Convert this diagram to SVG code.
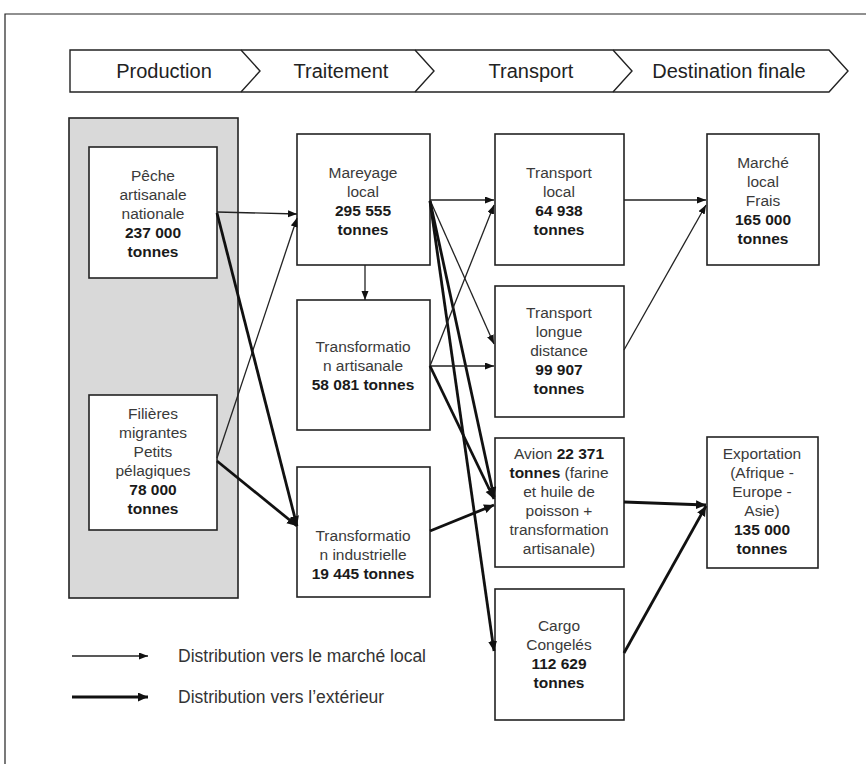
<svg xmlns="http://www.w3.org/2000/svg" width="866" height="764" viewBox="0 0 866 764">
<style>
.box{fill:#fff;stroke:#222;stroke-width:1.6}
.t{font-family:"Liberation Sans",Arial,sans-serif;font-size:15.5px;fill:#3a3a3a;text-anchor:middle}
.b{font-weight:bold;fill:#1a1a1a}
.hd{font-family:"Liberation Sans",Arial,sans-serif;font-size:20px;fill:#222;text-anchor:middle}
.lg{font-family:"Liberation Sans",Arial,sans-serif;font-size:17.5px;fill:#333}
.thin{stroke:#222;stroke-width:1.3;fill:none;marker-end:url(#ah)}
.thick{stroke:#111;stroke-width:2.8;fill:none;marker-end:url(#ahb)}
</style>
<defs>
<marker id="ah" markerUnits="userSpaceOnUse" markerWidth="10" markerHeight="8" refX="9" refY="3.5" orient="auto"><path d="M0,0 L9,3.5 L0,7 z" fill="#111"/></marker>
<marker id="ahb" markerUnits="userSpaceOnUse" markerWidth="12" markerHeight="10" refX="10" refY="4.5" orient="auto"><path d="M0,0 L10,4.5 L0,9 z" fill="#111"/></marker>
</defs>
<rect width="866" height="764" fill="#fff"/>
<path d="M5,764 L5,14 L866,14" fill="none" stroke="#222" stroke-width="1.2"/>
<g id="banner">
<path d="M70,50 L829,50 L848,71 L829,92 L70,92 Z" fill="#fff" stroke="#222" stroke-width="1.4"/>
<path d="M241,50 L260,71 L241,92 M415,50 L434,71 L415,92 M613,50 L632,71 L613,92" fill="none" stroke="#222" stroke-width="1.4"/>
<text class="hd" x="164" y="78">Production</text>
<text class="hd" x="341" y="78">Traitement</text>
<text class="hd" x="531" y="78">Transport</text>
<text class="hd" x="729" y="78">Destination finale</text>
</g>
<g id="production-zone"><rect x="69" y="118" width="169" height="480" fill="#d9d9d9" stroke="#222" stroke-width="1.6"/></g>
<g id="peche">
<rect class="box" x="89" y="147" width="128" height="131"/>
<text class="t" x="153" y="181">Pêche</text>
<text class="t" x="153" y="200">artisanale</text>
<text class="t" x="153" y="219">nationale</text>
<text class="t b" x="153" y="238">237 000</text>
<text class="t b" x="153" y="257">tonnes</text>
</g>
<g id="filieres">
<rect class="box" x="89" y="395" width="128" height="135"/>
<text class="t" x="153" y="419">Filières</text>
<text class="t" x="153" y="438">migrantes</text>
<text class="t" x="153" y="457">Petits</text>
<text class="t" x="153" y="476">pélagiques</text>
<text class="t b" x="153" y="495">78 000</text>
<text class="t b" x="153" y="514">tonnes</text>
</g>
<g id="mareyage">
<rect class="box" x="297" y="134" width="133" height="131"/>
<text class="t" x="363" y="178">Mareyage</text>
<text class="t" x="363" y="197">local</text>
<text class="t b" x="363" y="216">295 555</text>
<text class="t b" x="363" y="235">tonnes</text>
</g>
<g id="transf-artisanale">
<rect class="box" x="297" y="300" width="133" height="130"/>
<text class="t" x="363" y="352">Transformatio</text>
<text class="t" x="363" y="371">n artisanale</text>
<text class="t b" x="363" y="390">58 081 tonnes</text>
</g>
<g id="transf-industrielle">
<rect class="box" x="297" y="467" width="133" height="130"/>
<text class="t" x="363" y="541">Transformatio</text>
<text class="t" x="363" y="560">n industrielle</text>
<text class="t b" x="363" y="579">19 445 tonnes</text>
</g>
<g id="transport-local">
<rect class="box" x="495" y="134" width="129" height="131"/>
<text class="t" x="559" y="178">Transport</text>
<text class="t" x="559" y="197">local</text>
<text class="t b" x="559" y="216">64 938</text>
<text class="t b" x="559" y="235">tonnes</text>
</g>
<g id="transport-longue">
<rect class="box" x="495" y="286" width="129" height="131"/>
<text class="t" x="559" y="318">Transport</text>
<text class="t" x="559" y="337">longue</text>
<text class="t" x="559" y="356">distance</text>
<text class="t b" x="559" y="375">99 907</text>
<text class="t b" x="559" y="394">tonnes</text>
</g>
<g id="avion">
<rect class="box" x="495" y="438" width="129" height="129"/>
<text class="t" x="559" y="459">Avion <tspan class="b">22 371</tspan></text>
<text class="t" x="559" y="478"><tspan class="b">tonnes</tspan> (farine</text>
<text class="t" x="559" y="497">et huile de</text>
<text class="t" x="559" y="516">poisson +</text>
<text class="t" x="559" y="535">transformation</text>
<text class="t" x="559" y="554">artisanale)</text>
</g>
<g id="cargo">
<rect class="box" x="495" y="589" width="129" height="131"/>
<text class="t" x="559" y="631">Cargo</text>
<text class="t" x="559" y="650">Congelés</text>
<text class="t b" x="559" y="669">112 629</text>
<text class="t b" x="559" y="688">tonnes</text>
</g>
<g id="marche">
<rect class="box" x="707" y="134" width="112" height="131"/>
<text class="t" x="763" y="168">Marché</text>
<text class="t" x="763" y="187">local</text>
<text class="t" x="763" y="206">Frais</text>
<text class="t b" x="763" y="225">165 000</text>
<text class="t b" x="763" y="244">tonnes</text>
</g>
<g id="export">
<rect class="box" x="707" y="437" width="111" height="131"/>
<text class="t" x="762" y="459">Exportation</text>
<text class="t" x="762" y="478">(Afrique -</text>
<text class="t" x="762" y="497">Europe -</text>
<text class="t" x="762" y="516">Asie)</text>
<text class="t b" x="762" y="535">135 000</text>
<text class="t b" x="762" y="554">tonnes</text>
</g>
<g id="connectors">
<path class="thin" d="M217,212 L297,214"/>
<path class="thin" d="M217,458 L297,218"/>
<path class="thick" d="M217,213 L297,526"/>
<path class="thick" d="M217,461 L297,526"/>
<path class="thin" d="M365,265 L365,300"/>
<path class="thin" d="M430,200 L494,200"/>
<path class="thin" d="M430,200 L494,344"/>
<path class="thick" d="M430,201 L494,651"/>
<path class="thick" d="M430,201 L494,497"/>
<path class="thin" d="M430,366 L494,366"/>
<path class="thin" d="M430,366 L494,205"/>
<path class="thick" d="M430,366 L494,499"/>
<path class="thick" d="M430,531 L494,505"/>
<path class="thin" d="M624,200 L706,200"/>
<path class="thin" d="M624,350 L706,205"/>
<path class="thick" d="M624,502 L706,505"/>
<path class="thick" d="M624,653 L706,506"/>
</g>
<g id="legend">
<path class="thin" d="M72,656 L148,656"/>
<path class="thick" d="M72,697 L148,697"/>
<text class="lg" x="178" y="662">Distribution vers le marché local</text>
<text class="lg" x="178" y="703">Distribution vers l’extérieur</text>
</g>
</svg>
